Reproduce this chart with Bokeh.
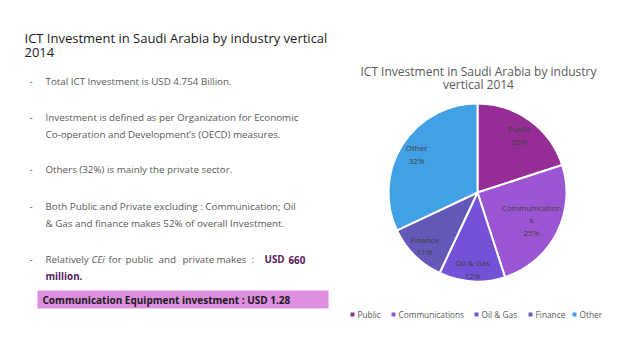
import numpy as np
from bokeh.plotting import figure
from bokeh.models import Range1d, ColumnDataSource
from bokeh.core.properties import value
from bokeh.embed import file_html
from bokeh.resources import INLINE

# ---- data ----
categories = ["Public", "Communications", "Oil & Gas", "Finance", "Other"]
shares = [20, 25, 12, 11, 32]
slice_labels = ["Public\n20%", "Communication\ns\n25%", "Oil & Gas\n12%", "Finance\n11%", "Other\n32%"]
colors = ["#962C95", "#9B55D2", "#7352D7", "#6459B8", "#42A0E5"]
chart_title = ["ICT Investment in Saudi Arabia by industry", "vertical 2014"]
slide_title = ["ICT Investment in Saudi Arabia by industry vertical", "2014"]

W, H = 630, 351
def X(px):
    return px
def Y(py):
    return H - py

p = figure(width=W, height=H, output_backend="svg", toolbar_location=None,
           x_range=Range1d(0, W), y_range=Range1d(0, H), min_border=0)
p.axis.visible = False
p.grid.visible = False
p.outline_line_color = None
p.background_fill_color = "white"
p.border_fill_color = "white"

FONT = value("Open Sans")

# ---- slide title ----
for i, t in enumerate(slide_title):
    p.text(x=[X(24)], y=[Y(37 + i * 15)], text=[t], text_font=FONT, text_font_size="13px",
           text_color="#1a1a1a", text_baseline="middle", text_align="left")

# ---- bullet text ----
gray = "#595959"
FS = "9.8px"
bullets = [
    (81, ["Total ICT Investment is USD 4.754 Billion."]),
    (117, ["Investment is defined as per Organization for Economic",
           "Co-operation and Development\u2019s (OECD) measures."]),
    (169, ["Others (32%) is mainly the private sector."]),
    (206, ["Both Public and Private excluding : Communication; Oil",
           "& Gas and finance makes 52% of overall Investment."]),
]
for y0, lines in bullets:
    p.text(x=[X(29)], y=[Y(y0)], text=["-"], text_font=FONT, text_font_size=FS,
           text_color=gray, text_baseline="middle")
    for j, ln in enumerate(lines):
        p.text(x=[X(45)], y=[Y(y0 + j * 17)], text=[ln], text_font=FONT, text_font_size=FS,
               text_color=gray, text_baseline="middle")

# last bullet (justified line, mixed styles)
y0 = 259
p.text(x=[X(29)], y=[Y(y0)], text=["-"], text_font=FONT, text_font_size=FS,
       text_color=gray, text_baseline="middle")
words = ["Relatively", "for", "public", "and", "private", "makes", ":"]
wx = [45, 108, 125, 158, 182, 216, 251]
p.text(x=[X(v) for v in wx], y=[Y(y0)] * len(words), text=words, text_font=FONT,
       text_font_size=FS, text_color=gray, text_baseline="middle")
p.text(x=[X(91)], y=[Y(y0)], text=["CEi"], text_font=FONT, text_font_size=FS,
       text_font_style="italic", text_color=gray, text_baseline="middle")
p.text(x=[X(264), X(288)], y=[Y(y0)] * 2, text=["USD", "660"], text_font=FONT, text_font_size=FS,
       text_font_style="bold", text_color="#5A1A5E", text_baseline="middle")
p.text(x=[X(45)], y=[Y(y0 + 17)], text=["million."], text_font=FONT, text_font_size=FS,
       text_font_style="bold", text_color="#5A1A5E", text_baseline="middle")

# highlight box
p.quad(left=[X(37)], right=[X(328)], bottom=[Y(308)], top=[Y(290)],
       fill_color="#DE8EDE", line_color=None)
p.text(x=[X(42)], y=[Y(299)], text=["Communication Equipment investment : USD 1.28"],
       text_font=FONT, text_font_size="10px", text_font_style="bold", text_color="#1a1a1a",
       text_baseline="middle")

# ---- chart title ----
for i, t in enumerate(chart_title):
    p.text(x=[X(478)], y=[Y(71 + i * 13)], text=[t], text_font=FONT, text_font_size="12px",
           text_color=gray, text_baseline="middle", text_align="center")

# ---- pie ----
cx, cy, R = X(477), Y(192), 89
vals = np.array(shares, dtype=float)
frac = vals / vals.sum()
ends = np.pi / 2 - 2 * np.pi * np.cumsum(frac)
starts = np.concatenate([[np.pi / 2], ends[:-1]])
src = ColumnDataSource(dict(start=starts, end=ends, color=colors, cat=categories))
p.wedge(x=cx, y=cy, radius=R, start_angle="start", end_angle="end", direction="clock",
        fill_color="color", line_color="white", line_width=2, source=src)

mids = (starts + ends) / 2
dist = [0.8, 0.68, 0.86, 0.84, 0.81]
lx = [cx + R * d * np.cos(m) for d, m in zip(dist, mids)]
ly = [cy + R * d * np.sin(m) for d, m in zip(dist, mids)]
p.text(x=lx, y=ly, text=slice_labels, text_font=FONT, text_font_size="8px",
       text_color="#404040", text_align="center", text_baseline="middle", text_line_height=1.15)

# ---- legend ----
leg_x = [352, 393, 476, 530, 574]
for c, lab, px in zip(colors, categories, leg_x):
    p.scatter(x=[X(px)], y=[Y(314)], marker="square", size=4, fill_color=c, line_color=None)
    p.text(x=[X(px + 5)], y=[Y(314)], text=[lab], text_font=FONT, text_font_size="8.3px",
           text_color=gray, text_baseline="middle")

open("out.html", "w").write(file_html(p, INLINE))
